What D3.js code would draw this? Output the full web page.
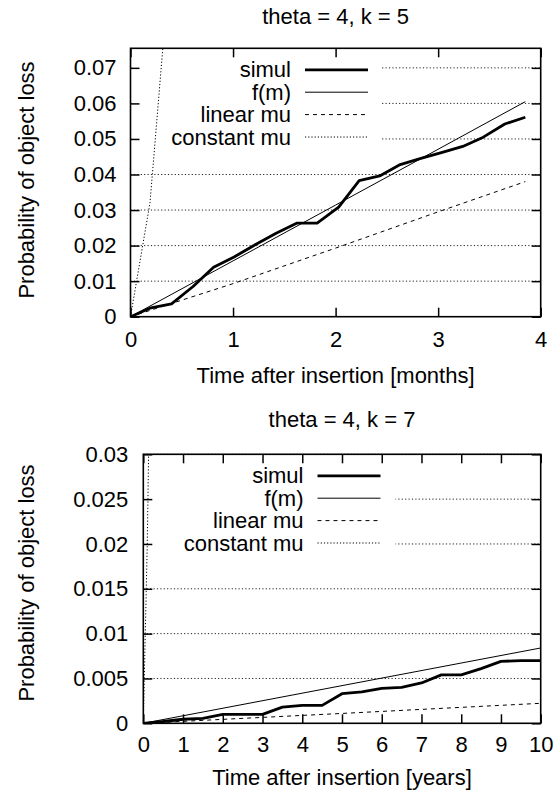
<!DOCTYPE html>
<html>
<head>
<meta charset="utf-8">
<script src="https://cdn.jsdelivr.net/npm/d3@7"></script>
<style>
  html, body { margin: 0; padding: 0; background: #fff; }
  svg { display: block; }
  text { font-family: "Liberation Sans", Arial, Helvetica, sans-serif; fill: #000; }
</style>
</head>
<body>
<svg id="chart" width="558" height="795"></svg>
<script>
// ---------- Data: panel 1 (theta = 4, k = 5) ----------
const p1Title = "theta = 4, k = 5";
const p1XLabel = "Time after insertion [months]";
const p1XTicks = [0, 1, 2, 3, 4];
const p1YTicks = [0, 0.01, 0.02, 0.03, 0.04, 0.05, 0.06, 0.07];
const p1YTickLabels = ["0", "0.01", "0.02", "0.03", "0.04", "0.05", "0.06", "0.07"];
const p1SimulX = [0, 0.2, 0.4, 0.61, 0.81, 1.01, 1.22, 1.42, 1.62, 1.82, 2.03, 2.23, 2.43, 2.63, 2.84, 3.04, 3.24, 3.44, 3.65, 3.85];
const p1SimulY = [0, 0.0025, 0.0036, 0.0085, 0.0139, 0.0168, 0.0203, 0.0235, 0.0263, 0.0263, 0.0308, 0.0383, 0.0396, 0.0428, 0.0446, 0.0462, 0.0479, 0.0505, 0.0542, 0.0561];
const p1FmX = [0, 1, 2, 3, 3.85];
const p1FmY = [0, 0.0157, 0.0314, 0.0471, 0.0605];
const p1LinX = [0, 1, 2, 3, 3.85];
const p1LinY = [0, 0.0093, 0.0193, 0.0295, 0.038];
const p1ConstX = [0, 0.19, 0.4];
const p1ConstY = [0, 0.032, 0.105];

// ---------- Data: panel 2 (theta = 4, k = 7) ----------
const p2Title = "theta = 4, k = 7";
const p2XLabel = "Time after insertion [years]";
const p2XTicks = [0, 1, 2, 3, 4, 5, 6, 7, 8, 9, 10];
const p2YTicks = [0, 0.005, 0.01, 0.015, 0.02, 0.025, 0.03];
const p2YTickLabels = ["0", "0.005", "0.01", "0.015", "0.02", "0.025", "0.03"];
const p2SimulX = [0, 0.5, 1, 1.5, 2, 2.5, 3, 3.5, 4, 4.5, 5, 5.5, 6, 6.5, 7, 7.5, 8, 8.5, 9, 9.5, 10];
const p2SimulY = [0, 0.0002, 0.00045, 0.00055, 0.001, 0.001, 0.001, 0.0018, 0.002, 0.002, 0.0033, 0.0035, 0.0039, 0.004, 0.0045, 0.0054, 0.0054, 0.0061, 0.0069, 0.007, 0.007];
const p2FmX = [0, 5, 10];
const p2FmY = [0, 0.0042, 0.0084];
const p2LinX = [0, 5, 10];
const p2LinY = [0, 0.0011, 0.00223];
const p2ConstX = [0, 0.1, 0.15];
const p2ConstY = [0, 0.02, 0.035];

const legendNames = ["simul", "f(m)", "linear mu", "constant mu"];
const yLabel = "Probability of object loss";

// ---------- Drawing ----------
const svg = d3.select("#chart");
const FONT = 22;
const STYLES = [
  { width: 2.8, dash: null },
  { width: 1, dash: null },
  { width: 1, dash: "4,4" },
  { width: 1, dash: "1.2,2" }
];

function zip(xs, ys) { return xs.map((x, i) => ({ x: x, y: ys[i] })); }

function drawPanel(cfg) {
  const g = svg.append("g");
  const x = d3.scaleLinear().domain(cfg.xDomain).range([cfg.left, cfg.right]);
  const y = d3.scaleLinear().domain(cfg.yDomain).range([cfg.bottom, cfg.top]);
  const W = cfg.right - cfg.left, H = cfg.bottom - cfg.top;

  // clip
  const clipId = "clip" + cfg.id;
  svg.append("clipPath").attr("id", clipId)
    .append("rect").attr("x", cfg.left).attr("y", cfg.top).attr("width", W).attr("height", H);

  // grid
  g.append("g").selectAll("line").data(cfg.yTicks.filter(v => v > 0)).join("line")
    .attr("x1", cfg.left).attr("x2", cfg.right)
    .attr("y1", d => y(d)).attr("y2", d => y(d))
    .attr("stroke", "#222").attr("stroke-width", 1).attr("stroke-dasharray", "1.2,2.2");

  // opaque key box
  g.append("rect").attr("x", cfg.left + 1).attr("y", cfg.top + 1)
    .attr("width", cfg.keyRight - cfg.left - 1).attr("height", cfg.keyBottom - cfg.top - 1)
    .attr("fill", "#fff");

  // series
  const line = d3.line().x(d => x(d.x)).y(d => y(d.y));
  const series = [cfg.simul, cfg.fm, cfg.lin, cfg.cons];
  const dg = g.append("g").attr("clip-path", `url(#${clipId})`);
  series.forEach((s, i) => {
    dg.append("path").datum(s).attr("d", line)
      .attr("fill", "none").attr("stroke", "#000")
      .attr("stroke-width", STYLES[i].width)
      .attr("stroke-linejoin", "round")
      .attr("stroke-dasharray", STYLES[i].dash);
  });

  // legend
  legendNames.forEach((name, i) => {
    const cy = cfg.top + 21.5 + 22.4 * i;
    g.append("text").attr("x", cfg.keyTextX).attr("y", cy + 7.5)
      .attr("text-anchor", "end").attr("font-size", FONT).text(name);
    g.append("line").attr("x1", cfg.keyTextX + 14).attr("x2", cfg.keyTextX + 77)
      .attr("y1", cy).attr("y2", cy)
      .attr("stroke", "#000").attr("stroke-width", STYLES[i].width)
      .attr("stroke-dasharray", STYLES[i].dash);
  });

  // axes (inward ticks, mirrored)
  const ax = d3.axisBottom(x).tickValues(cfg.xTicks).tickFormat(d3.format("d"))
    .tickSizeInner(-9).tickSizeOuter(0).tickPadding(cfg.xPad);
  const axT = d3.axisTop(x).tickValues(cfg.xTicks).tickFormat("")
    .tickSizeInner(-9).tickSizeOuter(0);
  const ay = d3.axisLeft(y).tickValues(cfg.yTicks).tickFormat((d, i) => cfg.yTickLabels[i])
    .tickSizeInner(-9).tickSizeOuter(0).tickPadding(cfg.yPad);
  const ayR = d3.axisRight(y).tickValues(cfg.yTicks).tickFormat("")
    .tickSizeInner(-9).tickSizeOuter(0);

  const styleAxis = sel => {
    sel.select(".domain").remove();
    sel.selectAll("line").attr("stroke", "#000").attr("stroke-width", 1.5);
    sel.selectAll("text").attr("font-size", FONT)
      .attr("font-family", '"Liberation Sans", Arial, Helvetica, sans-serif').attr("fill", "#000");
  };
  g.append("g").attr("transform", `translate(0,${cfg.bottom})`).call(ax).call(styleAxis);
  g.append("g").attr("transform", `translate(0,${cfg.top})`).call(axT).call(styleAxis);
  g.append("g").attr("transform", `translate(${cfg.left},0)`).call(ay).call(styleAxis);
  g.append("g").attr("transform", `translate(${cfg.right},0)`).call(ayR).call(styleAxis);

  // border
  g.append("rect").attr("x", cfg.left).attr("y", cfg.top).attr("width", W).attr("height", H)
    .attr("fill", "none").attr("stroke", "#000").attr("stroke-width", 1.6);

  // title and labels
  const cx = (cfg.left + cfg.right) / 2;
  g.append("text").attr("x", cx).attr("y", cfg.titleY).attr("text-anchor", "middle")
    .attr("font-size", FONT).text(cfg.title);
  g.append("text").attr("x", cx).attr("y", cfg.xLabelY).attr("text-anchor", "middle")
    .attr("font-size", FONT).text(cfg.xLabel);
  g.append("text").attr("transform", `translate(33.5,${cfg.yLabelCY}) rotate(-90)`)
    .attr("text-anchor", "middle").attr("font-size", FONT).text(yLabel);
}

drawPanel({
  id: 1, left: 130.5, right: 540.7, top: 48.3, bottom: 316.7,
  xDomain: [0, 4], yDomain: [0, 0.0755],
  xTicks: p1XTicks, yTicks: p1YTicks, yTickLabels: p1YTickLabels,
  xPad: 15, yPad: 14,
  simul: zip(p1SimulX, p1SimulY), fm: zip(p1FmX, p1FmY),
  lin: zip(p1LinX, p1LinY), cons: zip(p1ConstX, p1ConstY),
  keyTextX: 291, keyRight: 381.5, keyBottom: 152,
  title: p1Title, titleY: 23.5, xLabel: p1XLabel, xLabelY: 383.3, yLabelCY: 180
});

drawPanel({
  id: 2, left: 143.3, right: 540.7, top: 454.3, bottom: 723.3,
  xDomain: [0, 10], yDomain: [0, 0.03],
  xTicks: p2XTicks, yTicks: p2YTicks, yTickLabels: p2YTickLabels,
  xPad: 13, yPad: 15,
  simul: zip(p2SimulX, p2SimulY), fm: zip(p2FmX, p2FmY),
  lin: zip(p2LinX, p2LinY), cons: zip(p2ConstX, p2ConstY),
  keyTextX: 303.5, keyRight: 395.5, keyBottom: 556,
  title: p2Title, titleY: 426.7, xLabel: p2XLabel, xLabelY: 785, yLabelCY: 583
});
</script>
</body>
</html>
